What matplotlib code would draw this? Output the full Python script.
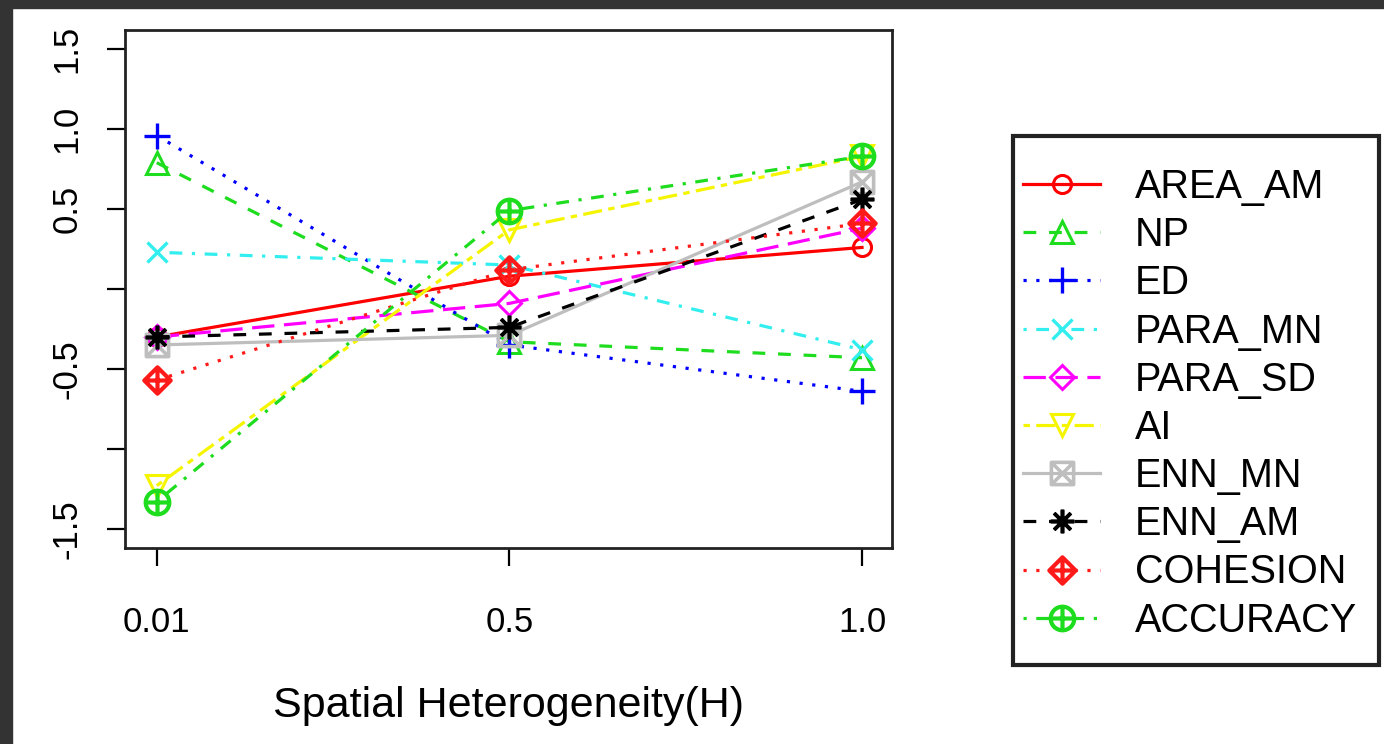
import numpy as np
import matplotlib
matplotlib.use("Agg")
import matplotlib.pyplot as plt
from matplotlib.path import Path
from matplotlib.patches import Rectangle

plt.rcParams['font.family'] = ['Liberation Sans', 'DejaVu Sans']

# data
h_labels = ["0.01", "0.5", "1.0"]
AREA_AM = [-0.30, 0.08, 0.26]
NP = [0.79, -0.33, -0.43]
ED = [0.96, -0.35, -0.64]
PARA_MN = [0.23, 0.15, -0.38]
PARA_SD = [-0.30, -0.09, 0.38]
AI = [-1.23, 0.37, 0.83]
ENN_MN = [-0.35, -0.29, 0.67]
ENN_AM = [-0.30, -0.24, 0.56]
COHESION = [-0.57, 0.12, 0.41]
ACCURACY = [-1.33, 0.49, 0.83]

names = ["AREA_AM", "NP", "ED", "PARA_MN", "PARA_SD", "AI",
         "ENN_MN", "ENN_AM", "COHESION", "ACCURACY"]
series = [AREA_AM, NP, ED, PARA_MN, PARA_SD, AI, ENN_MN, ENN_AM, COHESION, ACCURACY]

y_ticks = [-1.5, -1.0, -0.5, 0.0, 0.5, 1.0, 1.5]
y_ticklabels = ["-1.5", "", "-0.5", "", "0.5", "1.0", "1.5"]

# R-like markers (pch 7, 9, 10 built as compound paths)
plus = Path([(0, 1), (0, -1), (-1, 0), (1, 0)],
            [Path.MOVETO, Path.LINETO, Path.MOVETO, Path.LINETO])
cross = Path([(-1, -1), (1, 1), (-1, 1), (1, -1)],
             [Path.MOVETO, Path.LINETO, Path.MOVETO, Path.LINETO])
square = Path([(-1, -1), (1, -1), (1, 1), (-1, 1), (-1, -1)],
              [Path.MOVETO, Path.LINETO, Path.LINETO, Path.LINETO, Path.CLOSEPOLY])
diamond = Path([(0, 1), (1, 0), (0, -1), (-1, 0), (0, 1)],
               [Path.MOVETO, Path.LINETO, Path.LINETO, Path.LINETO, Path.CLOSEPOLY])
sq_x = Path.make_compound_path(square, cross)
dia_plus = Path.make_compound_path(diamond, plus)
circ_plus = Path.make_compound_path(Path.unit_circle(), plus)

green = '#1EDC1E'
styles = [
    dict(color='#FF0000', dashes=(), marker='o', ms=13, mew=2.2),
    dict(color=green, dashes=(4, 4), marker='^', ms=16, mew=2.2),
    dict(color='#0000FF', dashes=(1, 3), marker='+', ms=19, mew=2.4),
    dict(color='#33EEEE', dashes=(1, 3, 4, 3), marker='x', ms=14, mew=2.4),
    dict(color='#FF00FF', dashes=(7, 3), marker='D', ms=12, mew=2.2),
    dict(color='#F5F500', dashes=(2, 2, 6, 2), marker='v', ms=16, mew=2.2),
    dict(color='#BEBEBE', dashes=(), marker=sq_x, ms=16, mew=2.6),
    dict(color='#000000', dashes=(4, 4), marker=(8, 2, 0), ms=17, mew=2.6),
    dict(color='#FF1A1A', dashes=(1, 3), marker=dia_plus, ms=19, mew=3.0),
    dict(color=green, dashes=(1, 3, 4, 3), marker=circ_plus, ms=17, mew=3.0),
]

W, H = 1384, 744
fig = plt.figure(figsize=(W / 100, H / 100), dpi=100)
ax = fig.add_axes([125 / W, 1 - 548 / H, (892 - 125) / W, (548 - 30) / H])

x = np.arange(1, len(h_labels) + 1)
handles = []
for name, vals, st in zip(names, series, styles):
    ln, = ax.plot(x, vals, color=st['color'], lw=2.3, marker=st['marker'],
                  ms=st['ms'], mew=st['mew'], mfc='none', mec=st['color'], label=name)
    if st['dashes']:
        ln.set_dashes(st['dashes'])
    handles.append(ln)

ax.set_xlim(0.91, 3.085)
ax.set_ylim(-1.62, 1.62)
ax.set_xticks(x)
ax.set_xticklabels(h_labels)
ax.set_yticks(y_ticks)
ax.set_yticklabels(y_ticklabels, rotation=90, va='center')
ax.tick_params(axis='both', direction='out', length=13, width=1.6, labelsize=25)
ax.tick_params(axis='x', pad=29)
ax.tick_params(axis='y', pad=17)
for sp in ax.spines.values():
    sp.set_linewidth(2.0)
    sp.set_color('#222222')

ax.set_xlabel("Spatial Heterogeneity(H)", fontsize=31, va='baseline')
ax.xaxis.set_label_coords(0.5, -(717 - 548) / (548 - 30))

# legend: content placed with legend(), frame drawn as a box
leg = fig.legend(handles=handles, loc='upper left',
                 bbox_to_anchor=(1023 / W, 1 - 168 / H),
                 frameon=False, borderpad=0, borderaxespad=0,
                 fontsize=28.5, handlelength=1.95, handletextpad=0.88,
                 labelspacing=0.257, numpoints=1)
fig.add_artist(Rectangle((1013 / W, 1 - 665 / H), (1379 - 1013) / W, (665 - 136) / H,
                         transform=fig.transFigure, fill=False, lw=3, ec='#222222'))

# dark border strips of the screenshot
fig.add_artist(Rectangle((0, 0), 12 / W, 1, transform=fig.transFigure,
                         color='#333333', zorder=10))
fig.add_artist(Rectangle((0, 1 - 8 / H), 1, 8 / H, transform=fig.transFigure,
                         color='#333333', zorder=10))

fig.savefig("out.png", dpi=100)
